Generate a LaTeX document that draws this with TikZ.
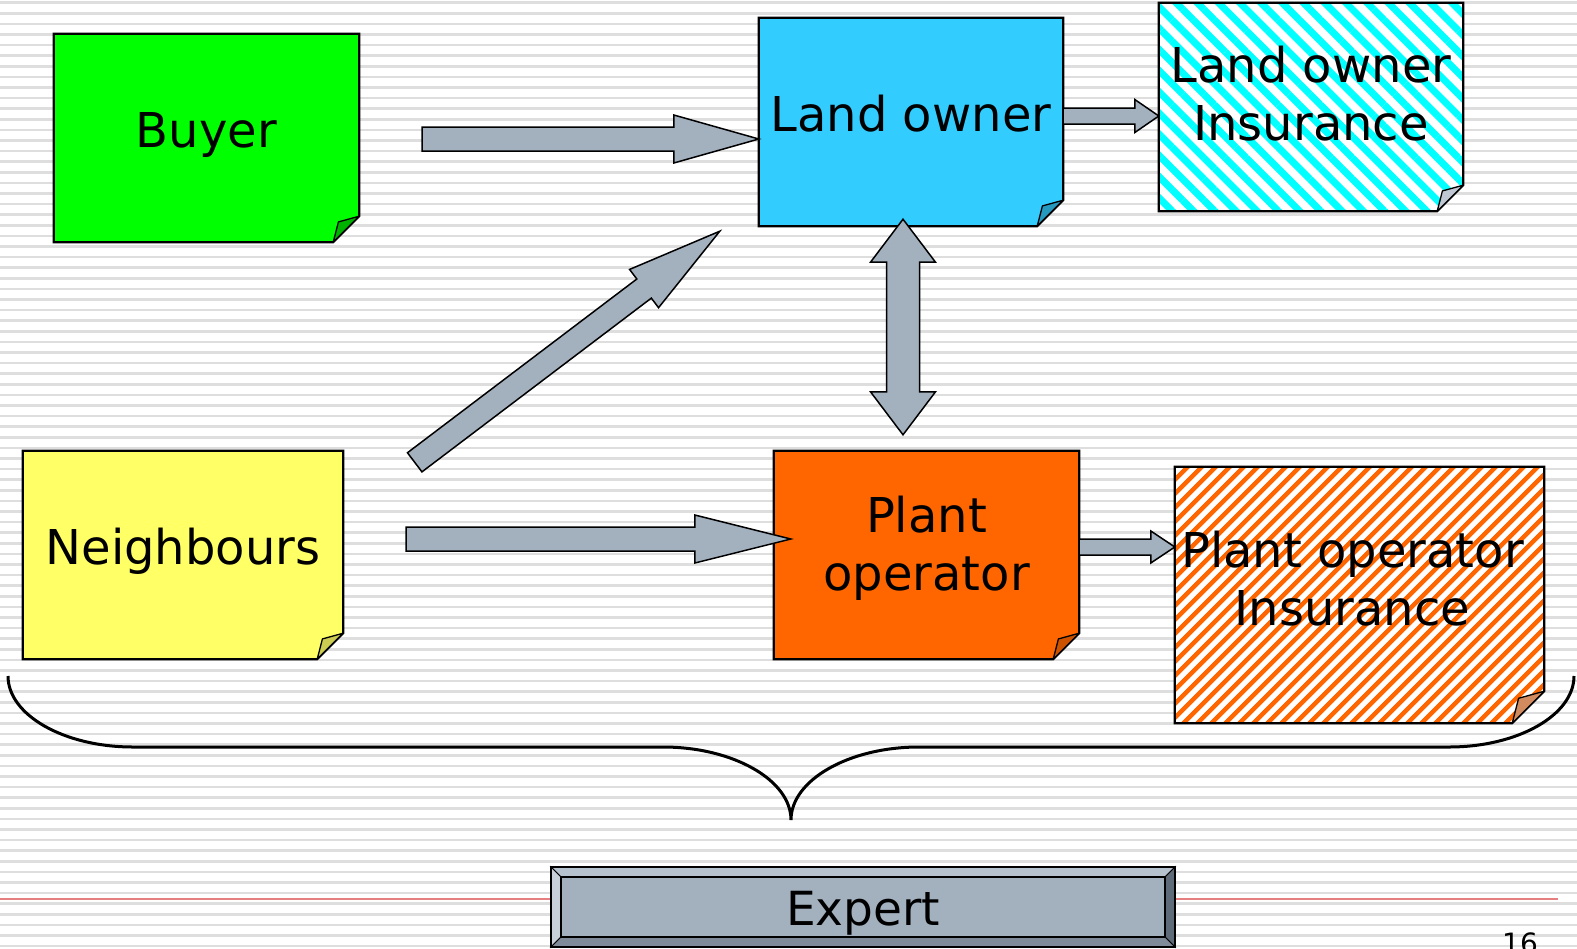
\documentclass[tikz,border=0pt]{standalone}
\usepackage{fontspec}
\setmainfont{DejaVu Sans}
\usetikzlibrary{calc,backgrounds,patterns.meta}

\definecolor{buyergreen}{RGB}{0,255,0}
\definecolor{landblue}{RGB}{51,204,255}
\definecolor{neighyellow}{RGB}{255,255,102}
\definecolor{plantorange}{RGB}{255,102,0}
\definecolor{stripecyan}{RGB}{0,255,255}
\definecolor{arrowgrey}{RGB}{163,177,191}
\definecolor{ruleline}{RGB}{230,128,128}
\definecolor{paperline}{RGB}{222,222,222}

\tikzset{
  note/.style={inner sep=0pt, minimum height=208pt, font=\fontsize{48}{58}\selectfont},
  oneline/.style={text height=36.5pt, text depth=18.5pt},
  noteline/.style={draw=black, line width=2.2pt, line join=miter},
  flapline/.style={draw=black, line width=1.3pt, line join=round},
  fatbody/.style={fill=arrowgrey, draw=black, line width=1.5pt, line join=miter},
  brace/.style={draw=black, line width=3pt},
  expertbox/.style={inner sep=0pt, minimum width=624pt, minimum height=80pt,
    font=\fontsize{47}{56}\selectfont, text height=36pt, text depth=0pt},
  bevel/.style={draw=black, line width=1pt}
}

% depth below the last line of a note
\newcommand{\deeper}[1]{\rule[-#1pt]{0pt}{#1pt}}

% sticky note: node, fold size, fill options, flap colour
\newcommand{\notepaper}[4]{%
  \begin{pgfonlayer}{background}
    \filldraw[noteline,#3] (#1.north west) -- (#1.north east) -- ($(#1.south east)+(0,-#2)$)
      -- ($(#1.south east)+(-#2,0)$) -- (#1.south west) -- cycle;
    \filldraw[flapline,fill=#4] ($(#1.south east)+(-#2,0)$) -- ($(#1.south east)+(-0.8*#2,-0.78*#2)$)
      -- ($(#1.south east)+(0,-#2)$) -- cycle;
  \end{pgfonlayer}}

% block arrow: from, to, shaft half width, head half width, head length
\newcommand{\fatarrow}[5]{%
  \coordinate (fa-j) at ($(#2)!#5pt!(#1)$);
  \filldraw[fatbody] ($(#1)!#3pt!90:(#2)$) -- ($(fa-j)!#3pt!90:(#2)$) -- ($(fa-j)!#4pt!90:(#2)$)
    -- (#2) -- ($(fa-j)!#4pt!-90:(#2)$) -- ($(fa-j)!#3pt!-90:(#2)$) -- ($(#1)!#3pt!-90:(#2)$) -- cycle;}

\newcommand{\fatdoublearrow}[5]{%
  \coordinate (fd-a) at ($(#1)!#5pt!(#2)$);
  \coordinate (fd-b) at ($(#2)!#5pt!(#1)$);
  \filldraw[fatbody] (#1) -- ($(fd-a)!#4pt!90:(#2)$) -- ($(fd-a)!#3pt!90:(#2)$) -- ($(fd-b)!#3pt!90:(#2)$)
    -- ($(fd-b)!#4pt!90:(#2)$) -- (#2) -- ($(fd-b)!#4pt!-90:(#2)$) -- ($(fd-b)!#3pt!-90:(#2)$)
    -- ($(fd-a)!#3pt!-90:(#2)$) -- ($(fd-a)!#4pt!-90:(#2)$) -- cycle;}

\begin{document}
\begin{tikzpicture}[x=1pt,y=-1pt]
  \useasboundingbox (0,0) rectangle (1577,948);

  % lined paper
  \begin{pgfonlayer}{background}
    \fill[white] (0,0) rectangle (1577,948);
    \foreach \k in {0,...,89}
      \draw[paperline, line width=2.5pt] (0,2.7+10.6*\k) -- (1577,2.7+10.6*\k);
    \draw[ruleline, line width=2pt] (0,899) -- (1558,899);
  \end{pgfonlayer}

  % the notes
  \node[note, oneline, minimum width=305pt] (buyer) at (206.5,138) {Buyer};
  \node[note, oneline, minimum width=304pt] (land) at (911,122) {Land owner};
  \node[note, align=center, minimum width=304pt] (landins) at (1311,107) {Land owner\\Insurance\deeper{26.5}};
  \node[note, oneline, minimum width=320pt] (neigh) at (183,555) {Neighbours};
  \node[note, align=center, minimum width=305pt] (plant) at (926.5,555) {Plant\\operator\deeper{22.5}};
  \node[note, align=center, minimum width=369pt, minimum height=256pt] (plantins) at (1359.5,595) {Plant operator\hspace*{14pt}\\Insurance\hspace*{14pt}\deeper{32.5}};

  \notepaper{buyer}{26}{fill=buyergreen}{buyergreen!70!black}
  \notepaper{land}{26}{fill=landblue}{landblue!75!black}
  \notepaper{landins}{26}{preaction={fill=white}, pattern={Lines[angle=-45,distance=15pt,line width=7pt]}, pattern color=stripecyan}{arrowgrey!70!white}
  \notepaper{neigh}{26}{fill=neighyellow}{neighyellow!80!black}
  \notepaper{plant}{26}{fill=plantorange}{plantorange!80!black}
  \notepaper{plantins}{32}{preaction={fill=white}, pattern={Lines[angle=45,distance=10.5pt,line width=4.8pt]}, pattern color=plantorange}{plantorange!50!arrowgrey}

  % connectors
  \coordinate (buyer out) at ($(buyer.east)+(63,1)$);
  \coordinate (land in) at (land.west |- buyer out);
  \fatarrow{buyer out}{land in}{12}{24}{85}

  \coordinate (neigh out) at ($(neigh.east)+(63,-16)$);
  \coordinate (plant in) at ($(plant.west)+(17,-16)$);
  \fatarrow{neigh out}{plant in}{12}{24}{96}

  \coordinate (neigh up) at ($(neigh.north east)+(71.5,11.5)$);
  \coordinate (land low) at ($(land.south west)+(-39,5)$);
  \fatarrow{neigh up}{land low}{12}{24}{95}

  \coordinate (land foot) at ($(land.south)+(-8,-7)$);
  \coordinate (plant head) at ($(plant.north)+(-23.5,-16)$);
  \fatdoublearrow{land foot}{plant head}{16.5}{32.5}{43}

  \coordinate (land out) at ($(land.east)+(0,-6)$);
  \coordinate (landins in) at (landins.west |- land out);
  \fatarrow{land out}{landins in}{8}{16.5}{24}

  \coordinate (plant out) at ($(plant.east)+(0,-8)$);
  \coordinate (plantins in) at (plantins.west |- plant out);
  \fatarrow{plant out}{plantins in}{8}{16}{24}

  % brace
  \draw[brace] (8,676) .. controls (8,715) and (64,747) .. (133,747) -- (663,747)
    .. controls (733,747) and (791,780) .. (791,820)
    .. controls (791,780) and (849,747) .. (919,747) -- (1449,747)
    .. controls (1518,747) and (1574,715) .. (1574,676);

  % expert
  \node[expertbox] (expert) at (863,907) {Expert};
  \begin{pgfonlayer}{background}
    \filldraw[bevel, fill={rgb,255:red,182;green,194;blue,205}] (expert.north west) -- (expert.north east)
      -- ($(expert.north east)+(-10,10)$) -- ($(expert.north west)+(10,10)$) -- cycle;
    \filldraw[bevel, fill={rgb,255:red,200;green,208;blue,218}] (expert.north west) -- ($(expert.north west)+(10,10)$)
      -- ($(expert.south west)+(10,-10)$) -- (expert.south west) -- cycle;
    \filldraw[bevel, fill={rgb,255:red,95;green,107;blue,120}] (expert.north east) -- (expert.south east)
      -- ($(expert.south east)+(-10,-10)$) -- ($(expert.north east)+(-10,10)$) -- cycle;
    \filldraw[bevel, fill={rgb,255:red,127;green,139;blue,152}] (expert.south west) -- (expert.south east)
      -- ($(expert.south east)+(-10,-10)$) -- ($(expert.south west)+(10,-10)$) -- cycle;
    \filldraw[fill=arrowgrey, draw=black, line width=2pt] ($(expert.north west)+(10,10)$) rectangle ($(expert.south east)+(-10,-10)$);
    \draw[black, line width=2.5pt] (expert.north west) rectangle (expert.south east);
  \end{pgfonlayer}

  \node[anchor=base, font=\fontsize{28}{28}\selectfont] (pagenum) at (1520,953) {16};
\end{tikzpicture}
\end{document}
